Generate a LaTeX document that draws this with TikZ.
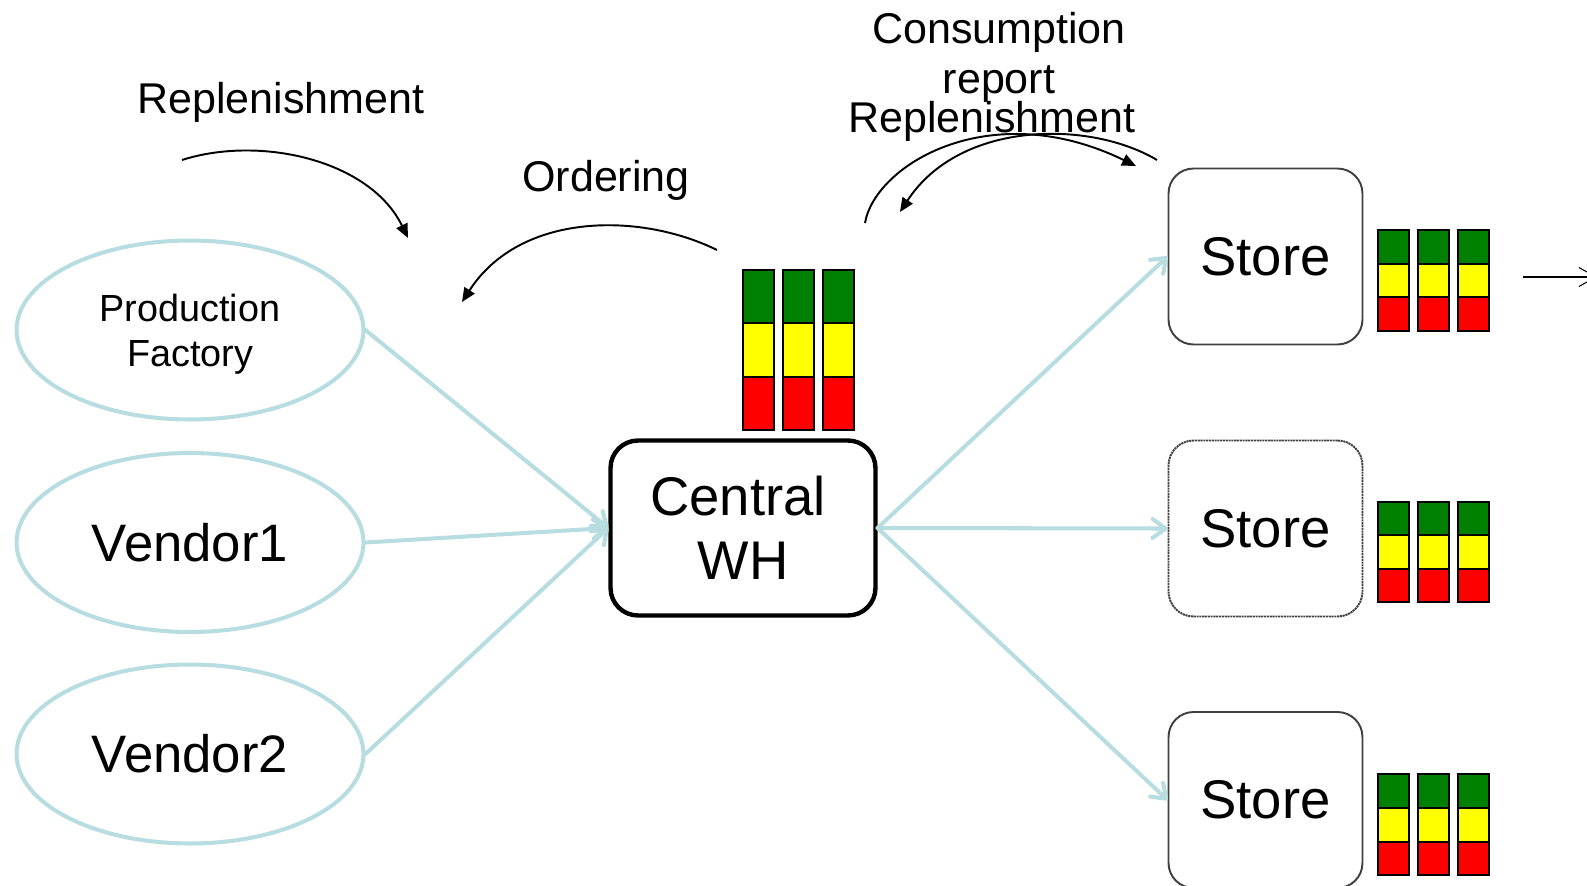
\documentclass[tikz,border=0pt]{standalone}
\usepackage{fontspec}
\setmainfont{Liberation Sans}
\usetikzlibrary{shapes.geometric,arrows.meta}
\definecolor{lblue}{RGB}{183,221,224}
\definecolor{storegray}{RGB}{64,64,64}
\definecolor{bgreen}{RGB}{0,128,0}
\definecolor{byellow}{RGB}{255,255,0}
\definecolor{bred}{RGB}{255,0,0}
\tikzset{
  srcell/.style={ellipse, draw=lblue, line width=2.3pt, minimum width=6.94cm,
    minimum height=3.58cm, inner sep=0pt, align=center},
  whbox/.style={rectangle, rounded corners=0.55cm, draw=black, line width=2.5pt,
    minimum width=5.30cm, minimum height=3.50cm, align=center,
    font=\fontsize{31}{36.5}\selectfont},
  storebox/.style={rectangle, rounded corners=0.5cm, draw=storegray, line width=1.1pt,
    minimum width=3.88cm, minimum height=3.52cm, font=\fontsize{31}{36}\selectfont},
  bigtxt/.style={font=\fontsize{30}{36}\selectfont},
  smalltxt/.style={font=\fontsize{21.5}{25.5}\selectfont},
  flow/.style={draw=lblue, line width=2.3pt, line cap=round,
    -{Straight Barb[length=0.26cm,width=0.38cm,round]}},
  curvearrow/.style={draw=black, line width=1.1pt,
    -{Triangle[length=0.28cm,width=0.24cm]}},
  plainarrow/.style={draw=black, line width=0.6pt,
    -{Straight Barb[length=0.34cm,width=0.38cm]}},
  lbl/.style={font=\fontsize{24.5}{28.5}\selectfont, align=center, inner sep=0pt},
  barline/.style={draw=black, line width=0.85pt}
}
\begin{document}
\begin{tikzpicture}[x=0.02cm,y=-0.02cm]
\useasboundingbox (0,0) rectangle (1587,886);

% source nodes
\node[srcell, smalltxt, text depth=0pt] (fac) at (190,330) {Production\\Factory};
\node[srcell, bigtxt] (v1) at (190,542.5) {Vendor1};
\node[srcell, bigtxt] (v2) at (190,754) {Vendor2};

% central warehouse
\node[whbox] (wh) at (743,528) {Central\rule{5.7pt}{0pt}\\WH};

% stores
\node[storebox] (s1) at (1265.5,256.5) {Store};
\node[storebox, dash pattern=on 1.2pt off 0.4pt] (s2) at (1265.5,528.5) {Store};
\node[storebox] (s3) at (1265.5,800) {Store};

% flows
\draw[flow] (fac.east) -- (wh.west);
\draw[flow] (v1.east) -- (wh.west);
\draw[flow] (v2.east) -- (wh.west);
\draw[flow] (wh.east) -- (s1.west);
\draw[flow] (wh.east) -- (s2.west);
\draw[flow] (wh.east) -- (s3.west);

% inventory bars at the warehouse
\foreach \bx in {743,783,823} {
  \draw[barline, fill=bgreen] (\bx,270) rectangle (\bx+31,323);
  \draw[barline, fill=byellow] (\bx,323) rectangle (\bx+31,377);
  \draw[barline, fill=bred] (\bx,377) rectangle (\bx+31,430);
}
% inventory bars at the stores
\foreach \ya/\yb/\yc/\yd in {230/264/297/331, 502/535/569/602, 774/808/842/875} {
  \foreach \bx in {1378,1418,1458} {
    \draw[barline, fill=bgreen] (\bx,\ya) rectangle (\bx+31,\yb);
    \draw[barline, fill=byellow] (\bx,\yb) rectangle (\bx+31,\yc);
    \draw[barline, fill=bred] (\bx,\yc) rectangle (\bx+31,\yd);
  }
}

% curved information arrows
\coordinate (r1a) at (182,160);
\coordinate (r1b) at (408,238);
\draw[curvearrow] (r1a) .. controls (260,135) and (370,160) .. (r1b);

\coordinate (oa) at (717,250);
\coordinate (ob) at (462,302);
\draw[curvearrow] (oa) .. controls (640,212) and (520,212) .. (ob);

\coordinate (ca) at (865,223);
\coordinate (cb) at (1136,166);
\draw[curvearrow] (ca) .. controls (875,165) and (990,95) .. (cb);

\coordinate (ra) at (1157,160);
\coordinate (rb) at (900,212);
\draw[curvearrow] (ra) .. controls (1090,120) and (960,120) .. (rb);

% outgoing arrow at the right edge
\coordinate (outa) at (1523,277);
\coordinate (outb) at (1597,277);
\draw[plainarrow] (outa) -- (outb);

% labels
\node[lbl, anchor=base] (lrep1) at (281,113) {Replenishment};
\node[lbl, anchor=base] (lord) at (606,191) {Ordering};
\node[lbl] (lcons) at (999,57) {Consumption\\report};
\node[lbl, anchor=base] (lrep2) at (992,132) {Replenishment};
\end{tikzpicture}
\end{document}
